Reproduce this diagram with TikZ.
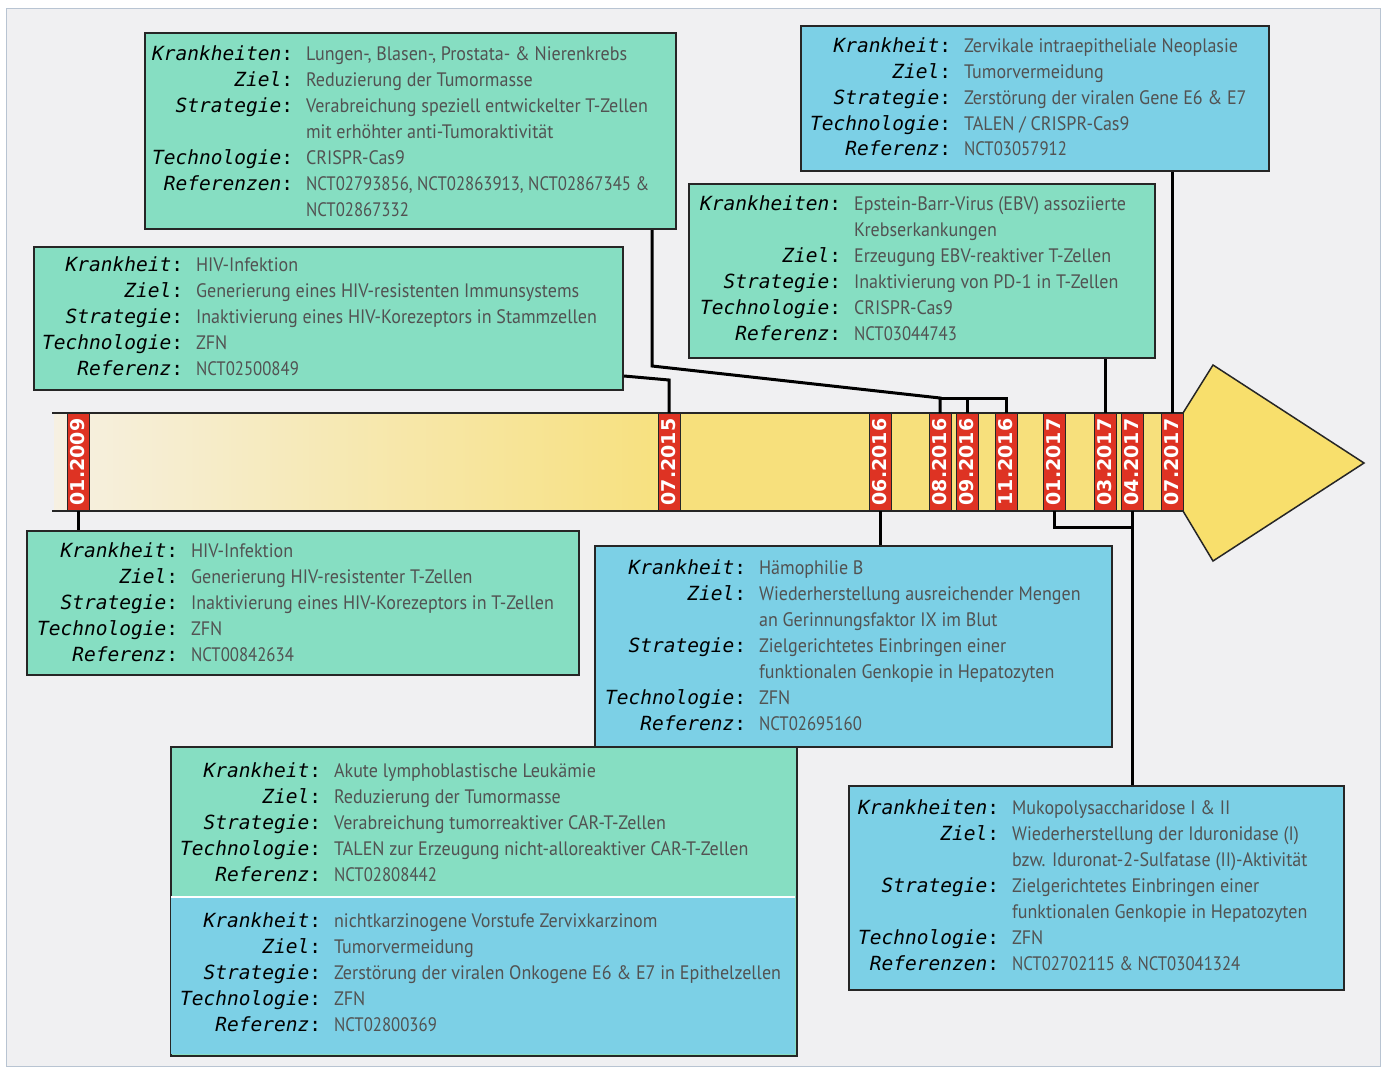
\documentclass[tikz,border=0pt]{standalone}
\usepackage{fontspec}
\newfontfamily\labfont{DejaVu Sans Mono}
\newfontfamily\valfont[FakeStretch=0.925]{PT Sans}
\newfontfamily\numfont[FakeStretch=0.86]{PT Sans}
\newfontfamily\datefont{DejaVu Sans}
\definecolor{boxgreen}{HTML}{86DEC2}
\definecolor{boxblue}{HTML}{7CD0E6}
\definecolor{bgc}{HTML}{F0F0F2}
\definecolor{framec}{HTML}{B8C4D2}
\definecolor{datered}{HTML}{DE3323}
\definecolor{bary}{HTML}{F7E07C}
\definecolor{barpale}{HTML}{F6F0E2}
\definecolor{arrowy}{HTML}{F8DF6C}
\definecolor{valgray}{HTML}{525252}
\definecolor{edge}{HTML}{262626}
\newcommand\lb[1]{{\fontsize{19.5}{26}\labfont\itshape #1}{\fontsize{19.5}{26}\labfont:}}
\newcommand\vl[1]{{\fontsize{19.5}{26}\valfont\color{valgray}#1}}
\newcommand\vn[1]{{\fontsize{19.5}{26}\numfont\color{valgray}#1}}
\begin{document}
\begin{tikzpicture}[x=1pt,y=-1pt,
  infobox/.style={draw=edge,line width=2pt,anchor=north west,inner sep=0pt},
  infotext/.style={anchor=base west,inner sep=0pt,font=\fontsize{18}{26}\selectfont},
  datebox/.style={draw=edge,line width=0.8pt,fill=datered,minimum width=22pt,minimum height=97pt,inner sep=0pt,
     text=white,font=\fontsize{19}{20}\datefont\bfseries},
  conn/.style={line width=3pt,black}]
\useasboundingbox (0,0) rectangle (1385,1068);
\fill[white] (0,0) rectangle (1385,1068);
\draw[framec,fill=bgc,line width=1pt] (6,8) rectangle (1380,1066);

% timeline bar
\shade[left color=barpale,right color=bary] (54,413) rectangle (680,511);
\fill[bary] (679,413) rectangle (1185,511);
\draw[edge,line width=2pt] (52,413) -- (1185,413);
\draw[edge,line width=2pt] (52,511) -- (1185,511);
\draw[edge,line width=1.5pt,fill=arrowy,line join=miter] (1183,413) -- (1213,365) -- (1364,463) -- (1213,561) -- (1183,511);

% dates
\newcommand\datenode[3]{\node[datebox] (#1) at (#2,462) {\rotatebox{90}{#3}};}
\datenode{d1}{78}{01.2009}
\datenode{d2}{669}{07.2015}
\datenode{d3}{880}{06.2016}
\datenode{d4}{940}{08.2016}
\datenode{d5}{967}{09.2016}
\datenode{d6}{1006}{11.2016}
\datenode{d7}{1054}{01.2017}
\datenode{d8}{1105}{03.2017}
\datenode{d9}{1132}{04.2017}
\datenode{d10}{1172}{07.2017}

% boxes
\node[infobox,fill=boxgreen,minimum width=531pt,minimum height=196pt] (A) at (144,32) {};
\node[infobox,fill=boxgreen,minimum width=589pt,minimum height=143pt] (B) at (33,246) {};
\node[infobox,fill=boxblue,minimum width=468pt,minimum height=145pt] (C) at (800,25) {};
\node[infobox,fill=boxgreen,minimum width=466pt,minimum height=174pt] (D) at (688,183) {};
\node[infobox,fill=boxgreen,minimum width=552pt,minimum height=144pt] (E) at (26,530) {};
\node[infobox,fill=boxgreen,minimum width=626pt,minimum height=309pt] (G) at (170,746) {};
\fill[boxblue] (171,897) rectangle (795,1054);
\draw[white,line width=2pt] (171,897) -- (795,897);
\node[infobox,fill=boxblue,minimum width=517pt,minimum height=201pt] (F) at (594,545) {};
\node[infobox,fill=boxblue,minimum width=495pt,minimum height=204pt] (H) at (848,785) {};

\node[infotext] (tA) at (152,60) {\begin{tabular}[t]{@{}r@{\hspace{13pt}}l@{}}
\lb{Krankheiten} & \vl{Lungen-, Blasen-, Prostata- \& Nierenkrebs}\\
\lb{Ziel} & \vl{Reduzierung der Tumormasse}\\
\lb{Strategie} & \vl{Verabreichung speziell entwickelter T-Zellen}\\
 & \vl{mit erhöhter anti-Tumoraktivität}\\
\lb{Technologie} & \vl{CRISPR-Cas9}\\
\lb{Referenzen} & \vn{NCT02793856, NCT02863913, NCT02867345 \&}\\
 & \vn{NCT02867332}
\end{tabular}};

\node[infotext] (tB) at (42,271) {\begin{tabular}[t]{@{}r@{\hspace{13pt}}l@{}}
\lb{Krankheit} & \vl{HIV-Infektion}\\
\lb{Ziel} & \vl{Generierung eines HIV-resistenten Immunsystems}\\
\lb{Strategie} & \vl{Inaktivierung eines HIV-Korezeptors in Stammzellen}\\
\lb{Technologie} & \vl{ZFN}\\
\lb{Referenz} & \vn{NCT02500849}
\end{tabular}};

\node[infotext] (tC) at (810,52) {\begin{tabular}[t]{@{}r@{\hspace{13pt}}l@{}}
\lb{Krankheit} & \vl{Zervikale intraepitheliale Neoplasie}\\
\lb{Ziel} & \vl{Tumorvermeidung}\\
\lb{Strategie} & \vl{Zerstörung der viralen Gene E6 \& E7}\\
\lb{Technologie} & \vl{TALEN / CRISPR-Cas9}\\
\lb{Referenz} & \vn{NCT03057912}
\end{tabular}};

\node[infotext] (tD) at (700,210) {\begin{tabular}[t]{@{}r@{\hspace{13pt}}l@{}}
\lb{Krankheiten} & \vl{Epstein-Barr-Virus (EBV) assoziierte}\\
 & \vl{Krebserkankungen}\\
\lb{Ziel} & \vl{Erzeugung EBV-reaktiver T-Zellen}\\
\lb{Strategie} & \vl{Inaktivierung von PD-1 in T-Zellen}\\
\lb{Technologie} & \vl{CRISPR-Cas9}\\
\lb{Referenz} & \vn{NCT03044743}
\end{tabular}};

\node[infotext] (tE) at (37,557) {\begin{tabular}[t]{@{}r@{\hspace{13pt}}l@{}}
\lb{Krankheit} & \vl{HIV-Infektion}\\
\lb{Ziel} & \vl{Generierung HIV-resistenter T-Zellen}\\
\lb{Strategie} & \vl{Inaktivierung eines HIV-Korezeptors in T-Zellen}\\
\lb{Technologie} & \vl{ZFN}\\
\lb{Referenz} & \vn{NCT00842634}
\end{tabular}};

\node[infotext] (tF) at (605,574) {\begin{tabular}[t]{@{}r@{\hspace{13pt}}l@{}}
\lb{Krankheit} & \vl{Hämophilie B}\\
\lb{Ziel} & \vl{Wiederherstellung ausreichender Mengen}\\
 & \vl{an Gerinnungsfaktor IX im Blut}\\
\lb{Strategie} & \vl{Zielgerichtetes Einbringen einer}\\
 & \vl{funktionalen Genkopie in Hepatozyten}\\
\lb{Technologie} & \vl{ZFN}\\
\lb{Referenz} & \vn{NCT02695160}
\end{tabular}};

\node[infotext] (tG1) at (180,777) {\begin{tabular}[t]{@{}r@{\hspace{13pt}}l@{}}
\lb{Krankheit} & \vl{Akute lymphoblastische Leukämie}\\
\lb{Ziel} & \vl{Reduzierung der Tumormasse}\\
\lb{Strategie} & \vl{Verabreichung tumorreaktiver CAR-T-Zellen}\\
\lb{Technologie} & \vl{TALEN zur Erzeugung nicht-alloreaktiver CAR-T-Zellen}\\
\lb{Referenz} & \vn{NCT02808442}
\end{tabular}};

\node[infotext] (tG2) at (180,927) {\begin{tabular}[t]{@{}r@{\hspace{13pt}}l@{}}
\lb{Krankheit} & \vl{nichtkarzinogene Vorstufe Zervixkarzinom}\\
\lb{Ziel} & \vl{Tumorvermeidung}\\
\lb{Strategie} & \vl{Zerstörung der viralen Onkogene E6 \& E7 in Epithelzellen}\\
\lb{Technologie} & \vl{ZFN}\\
\lb{Referenz} & \vn{NCT02800369}
\end{tabular}};

\node[infotext] (tH) at (858,814) {\begin{tabular}[t]{@{}r@{\hspace{13pt}}l@{}}
\lb{Krankheiten} & \vl{Mukopolysaccharidose I \& II}\\
\lb{Ziel} & \vl{Wiederherstellung der Iduronidase (I)}\\
 & \vl{bzw. Iduronat-2-Sulfatase (II)-Aktivität}\\
\lb{Strategie} & \vl{Zielgerichtetes Einbringen einer}\\
 & \vl{funktionalen Genkopie in Hepatozyten}\\
\lb{Technologie} & \vl{ZFN}\\
\lb{Referenzen} & \vn{NCT02702115 \& NCT03041324}
\end{tabular}};

% connectors
\coordinate (a1) at (652,366);
\coordinate (a2) at (940,398);
\coordinate (a3) at (1006,398);
\draw[conn,line join=miter] (A.south -| a1) -- (a1) -- (a2) -- (d4.north);
\draw[conn] (a2) -- (a3) -- (d6.north);
\draw[conn] (d5.north |- a2) -- (d5.north);
\coordinate (b1) at (669,380);
\draw[conn] (B.east |- 0,376) -- (b1) -- (d2.north);
\draw[conn] (C.south -| d10) -- (d10.north);
\draw[conn] (D.south -| d8) -- (d8.north);
\draw[conn] (d1.south) -- (E.north -| d1);
\draw[conn] (d3.south) -- (F.north -| d3);
\coordinate (h1) at (1054,527);
\draw[conn] (d7.south) -- (h1) -- (h1 -| d9);
\draw[conn] (d9.south) -- (H.north -| d9);
\end{tikzpicture}
\end{document}
